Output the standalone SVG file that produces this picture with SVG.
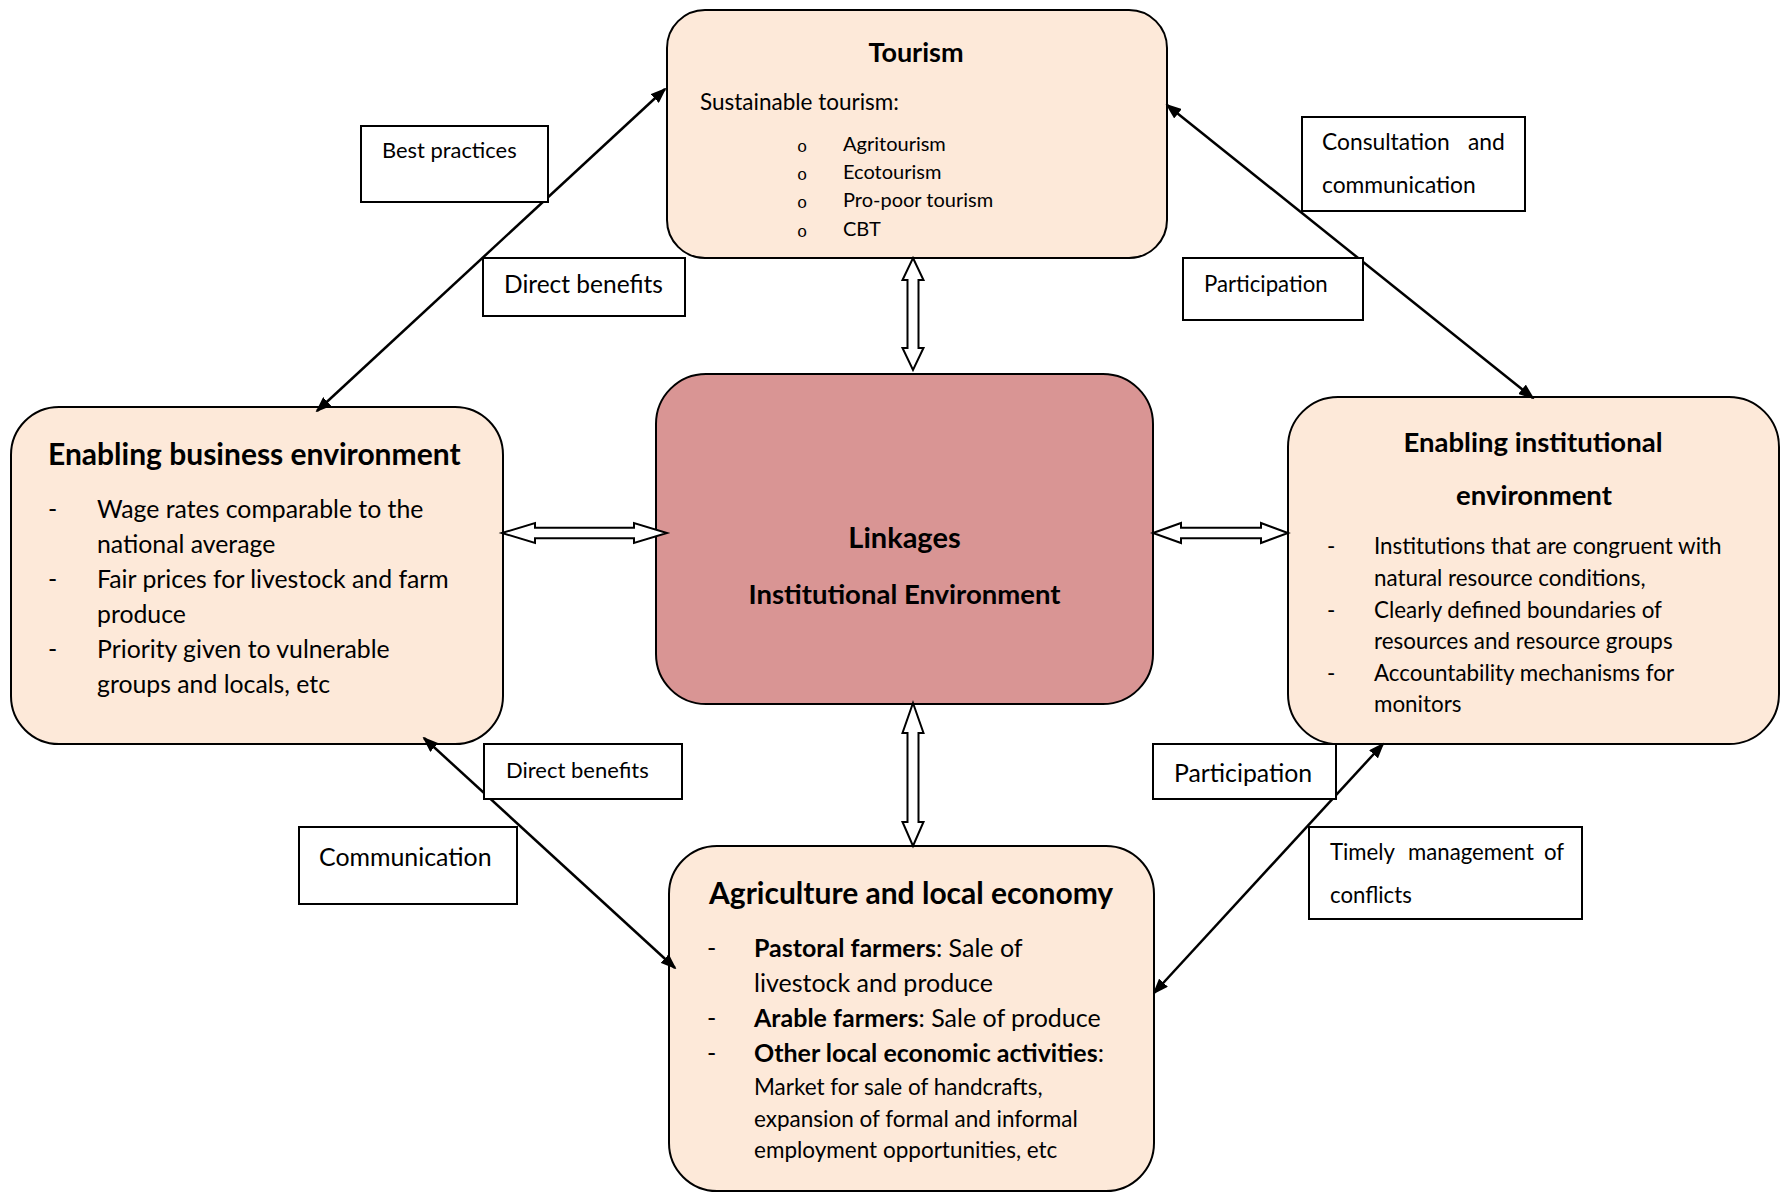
<svg xmlns="http://www.w3.org/2000/svg" width="1782" height="1193" viewBox="0 0 1782 1193">
  <style>
    text { font-family: "Lato", "Liberation Sans", sans-serif; fill: #000; }
    .node { fill: #FDE9D9; stroke: #000; stroke-width: 2; }
    .core { fill: #D99594; stroke: #000; stroke-width: 2; }
    .h { font-weight: bold; }
    .lbl { fill: #fff; stroke: #000; stroke-width: 2; }
    .link { fill: none; stroke: #000; stroke-width: 2.5; marker-start: url(#head); marker-end: url(#head); }
    .block { fill: #fff; stroke: #000; stroke-width: 2; stroke-linejoin: miter; }
    .bul { font-family: "Liberation Mono", monospace; font-size: 17px; }
  </style>
  <defs>
    <marker id="head" viewBox="0 0 16 12" markerWidth="16" markerHeight="12" refX="14" refY="6" orient="auto-start-reverse" markerUnits="userSpaceOnUse">
      <path d="M0,0 L16,6 L0,12 z" fill="#000"/>
    </marker>
  </defs>

  <rect width="1782" height="1193" fill="#fff"/>

  <!-- Tourism -->
  <g id="tourism">
    <rect class="node" x="667" y="10" width="500" height="248" rx="38"/>
    <text class="h" x="916" y="62" font-size="27" text-anchor="middle">Tourism</text>
    <text x="700" y="110" font-size="22.5">Sustainable tourism:</text>
    <text class="bul" x="802" y="152" text-anchor="middle">o</text>
    <text class="bul" x="802" y="180" text-anchor="middle">o</text>
    <text class="bul" x="802" y="208" text-anchor="middle">o</text>
    <text class="bul" x="802" y="237" text-anchor="middle">o</text>
    <text x="843" y="151" font-size="20">Agritourism</text>
    <text x="843" y="179" font-size="20">Ecotourism</text>
    <text x="843" y="207" font-size="20">Pro-poor tourism</text>
    <text x="843" y="236" font-size="20">CBT</text>
  </g>

  <!-- Enabling business environment -->
  <g id="business">
    <rect class="node" x="11" y="407" width="492" height="337" rx="48"/>
    <text class="h" x="48" y="465" font-size="30">Enabling business environment</text>
    <g font-size="24.8">
      <text x="48" y="518">-</text>
      <text x="48" y="588">-</text>
      <text x="48" y="658">-</text>
      <text x="97" y="518">Wage rates comparable to the</text>
      <text x="97" y="553">national average</text>
      <text x="97" y="588">Fair prices for livestock and farm</text>
      <text x="97" y="623">produce</text>
      <text x="97" y="658">Priority given to vulnerable</text>
      <text x="97" y="693">groups and locals, etc</text>
    </g>
  </g>

  <!-- Linkages / institutional environment -->
  <g id="linkages">
    <rect class="core" x="656" y="374" width="497" height="330" rx="50"/>
    <text class="h" x="904.5" y="548" font-size="29" text-anchor="middle">Linkages</text>
    <text class="h" x="904.5" y="604" font-size="27.5" text-anchor="middle">Institutional Environment</text>
  </g>

  <!-- Enabling institutional environment -->
  <g id="institutional">
    <rect class="node" x="1288" y="397" width="491" height="347" rx="50"/>
    <text class="h" x="1533" y="452" font-size="27.5" text-anchor="middle">Enabling institutional</text>
    <text class="h" x="1534" y="505" font-size="27.5" text-anchor="middle">environment</text>
    <g font-size="22.4">
      <text x="1327" y="554">-</text>
      <text x="1327" y="618">-</text>
      <text x="1327" y="681">-</text>
      <text x="1374" y="554">Institutions that are congruent with</text>
      <text x="1374" y="586">natural resource conditions,</text>
      <text x="1374" y="618">Clearly defined boundaries of</text>
      <text x="1374" y="649">resources and resource groups</text>
      <text x="1374" y="681">Accountability mechanisms for</text>
      <text x="1374" y="712">monitors</text>
    </g>
  </g>

  <!-- Agriculture and local economy -->
  <g id="agriculture">
    <rect class="node" x="669" y="846" width="485" height="345" rx="48"/>
    <text class="h" x="709" y="904" font-size="30">Agriculture and local economy</text>
    <g font-size="25">
      <text x="707" y="957">-</text>
      <text x="707" y="1027">-</text>
      <text x="707" y="1062">-</text>
      <text x="754" y="957"><tspan class="h">Pastoral farmers</tspan>: Sale of</text>
      <text x="754" y="992">livestock and produce</text>
      <text x="754" y="1027"><tspan class="h">Arable farmers</tspan>: Sale of produce</text>
      <text x="754" y="1062"><tspan class="h">Other local economic activities</tspan>:</text>
    </g>
    <g font-size="22.5">
      <text x="754" y="1095">Market for sale of handcrafts,</text>
      <text x="754" y="1127">expansion of formal and informal</text>
      <text x="754" y="1158">employment opportunities, etc</text>
    </g>
  </g>

  <!-- Connectors -->
  <g id="connectors">
    <line class="link" x1="317" y1="411" x2="665" y2="89"/>
    <line class="link" x1="1167" y1="105" x2="1533" y2="398"/>
    <line class="link" x1="424" y1="738" x2="675" y2="968"/>
    <line class="link" x1="1383" y1="744" x2="1154" y2="993"/>
    <!-- two-way block arrows around the core box -->
    <polygon class="block" points="913,258 923.5,280 918.5,280 918.5,348 923.5,348 913,370 902.5,348 907.5,348 907.5,280 902.5,280"/>
    <polygon class="block" points="913,703 923.5,733 918.5,733 918.5,822 923.5,822 913,846 902.5,822 907.5,822 907.5,733 902.5,733"/>
    <polygon class="block" points="502,533 535,523 535,527.7 634,527.7 634,523 667,533 634,543 634,538.3 535,538.3 535,543"/>
    <polygon class="block" points="1153,533 1181,523 1181,527.7 1261,527.7 1261,523 1288,533 1261,543 1261,538.3 1181,538.3 1181,543"/>
  </g>

  <!-- Connector labels -->
  <g id="labels">
    <rect class="lbl" x="361" y="126" width="187" height="76"/>
    <text x="382" y="158" font-size="21.9">Best practices</text>

    <rect class="lbl" x="483" y="258" width="202" height="58"/>
    <text x="504" y="293" font-size="24.5">Direct benefits</text>

    <rect class="lbl" x="1302" y="117" width="223" height="94"/>
    <text y="150" font-size="22.8"><tspan x="1322">Consultation</tspan><tspan x="1468">and</tspan></text>
    <text x="1322" y="193" font-size="22.8">communication</text>

    <rect class="lbl" x="1183" y="258" width="180" height="62"/>
    <text x="1204" y="292" font-size="22.2">Participation</text>

    <rect class="lbl" x="484" y="744" width="198" height="55"/>
    <text x="506" y="778" font-size="22">Direct benefits</text>

    <rect class="lbl" x="299" y="827" width="218" height="77"/>
    <text x="319" y="866" font-size="24.9">Communication</text>

    <rect class="lbl" x="1153" y="744" width="183" height="55"/>
    <text x="1174" y="782" font-size="24.8">Participation</text>

    <rect class="lbl" x="1309" y="827" width="273" height="92"/>
    <text y="860" font-size="22.2"><tspan x="1330">Timely</tspan><tspan x="1408">management</tspan><tspan x="1544">of</tspan></text>
    <text x="1330" y="903" font-size="22.2">conflicts</text>
  </g>
</svg>
